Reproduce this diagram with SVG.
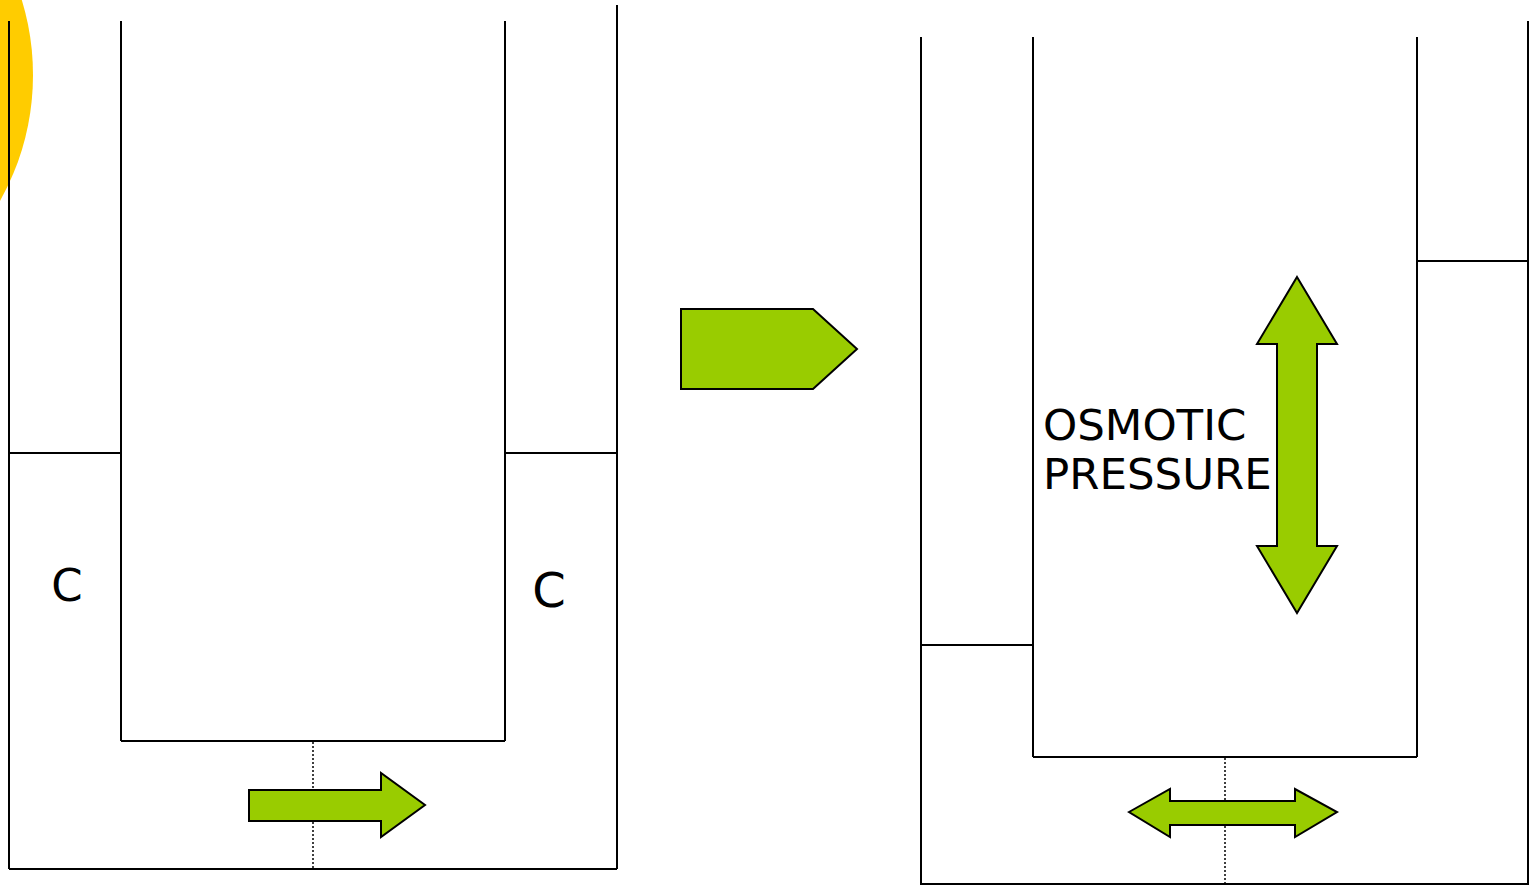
<svg xmlns="http://www.w3.org/2000/svg" width="1529" height="885" viewBox="0 0 1529 885">
<defs>
<style>
.ln{stroke:#000;stroke-width:2;fill:none}
.dot{stroke:#000;stroke-width:1.5;stroke-dasharray:2,2;fill:none}
.arr{fill:#99CC00;stroke:#000;stroke-width:2;stroke-linejoin:miter}
.t{font-family:"DejaVu Sans",Verdana,sans-serif;fill:#000}
</style>
</defs>
<rect width="1529" height="885" fill="#fff"/>
<circle id="sun" cx="-224" cy="75" r="257" fill="#FFCC00"/>
<g id="left-apparatus">
<line class="ln" x1="9" y1="21" x2="9" y2="869"/>
<line class="ln" x1="121" y1="21" x2="121" y2="741"/>
<line class="ln" x1="505" y1="21" x2="505" y2="741"/>
<line class="ln" x1="617" y1="5" x2="617" y2="869"/>
<line class="ln" x1="9" y1="869" x2="617" y2="869"/>
<line class="ln" x1="121" y1="741" x2="505" y2="741"/>
<line class="ln" x1="9" y1="453" x2="121" y2="453"/>
<line class="ln" x1="505" y1="453" x2="617" y2="453"/>
<line class="dot" x1="313" y1="742" x2="313" y2="868"/>
</g>
<g id="label-c-left"><text class="t" x="67" y="601" font-size="45" text-anchor="middle">C</text></g>
<g id="label-c-right"><text class="t" x="549" y="607" font-size="48" text-anchor="middle">C</text></g>
<g id="arrow-left-flow"><polygon class="arr" points="249,790 381,790 381,773 425,805 381,837 381,821 249,821"/></g>
<g id="arrow-transition"><polygon class="arr" points="681,309 813,309 857,349 813,389 681,389"/></g>
<g id="right-apparatus">
<line class="ln" x1="921" y1="37" x2="921" y2="885"/>
<line class="ln" x1="1033" y1="37" x2="1033" y2="757"/>
<line class="ln" x1="1417" y1="37" x2="1417" y2="757"/>
<line class="ln" x1="1528" y1="21" x2="1528" y2="885"/>
<line class="ln" x1="921" y1="884" x2="1528" y2="884"/>
<line class="ln" x1="1033" y1="757" x2="1417" y2="757"/>
<line class="ln" x1="921" y1="645" x2="1033" y2="645"/>
<line class="ln" x1="1417" y1="261" x2="1528" y2="261"/>
<line class="dot" x1="1225" y1="758" x2="1225" y2="884"/>
</g>
<g id="arrow-bidir-horizontal"><polygon class="arr" points="1129,812 1170,789 1170,801 1295,801 1295,789 1337,812 1295,837 1295,825 1170,825 1170,837"/></g>
<g id="arrow-bidir-vertical"><polygon class="arr" points="1297,277 1337,344 1317,344 1317,546 1337,546 1297,613 1257,546 1277,546 1277,344 1257,344"/></g>
<g id="label-osmotic"><text class="t" font-size="43.5"><tspan x="1043" y="440">OSMOTIC</tspan><tspan x="1043" y="489">PRESSURE</tspan></text></g>
</svg>
